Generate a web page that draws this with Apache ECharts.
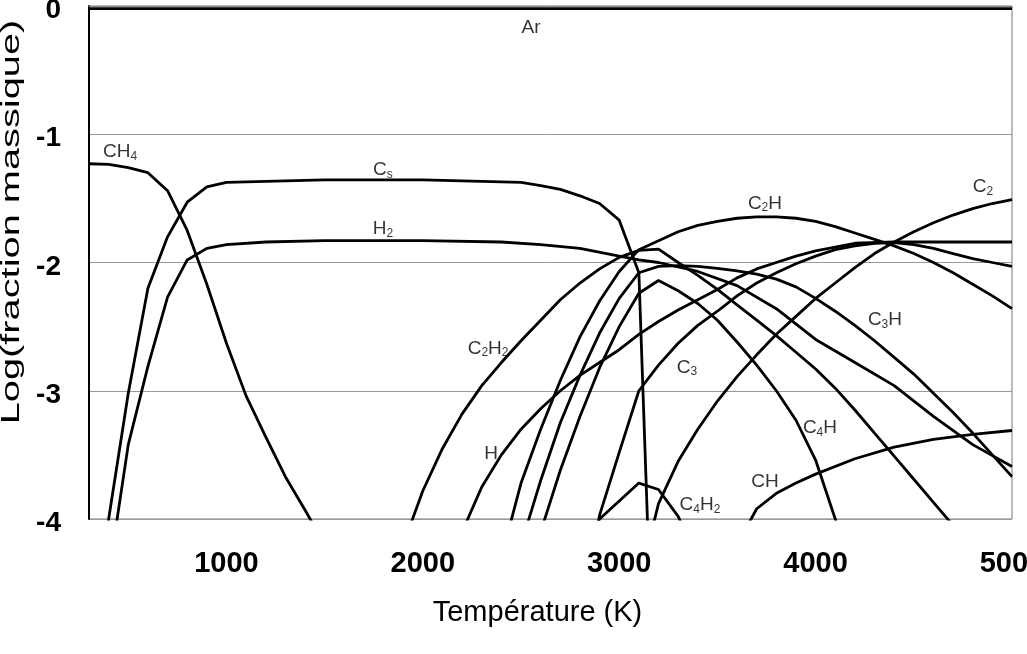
<!DOCTYPE html>
<html>
<head>
<meta charset="utf-8">
<script src="https://cdn.jsdelivr.net/npm/echarts@6/dist/echarts.min.js"></script>
<style>
  html, body { margin: 0; padding: 0; background: #fff; }
  #chart { width: 1027px; height: 654px; }
</style>
</head>
<body>
<div id="chart"></div>
<script>
// temperature (K), log10 of mass fraction
const ar = [[300, -0.02], [1000, -0.02], [2000, -0.02], [3000, -0.02], [4000, -0.02], [5000, -0.02]];
const ch4 = [[300, -1.23], [400, -1.235], [500, -1.26], [600, -1.30], [700, -1.44], [800, -1.75], [900, -2.17],
  [1000, -2.63], [1100, -3.04], [1200, -3.36], [1300, -3.67], [1400, -3.93], [1500, -4.2]];
const cs = [[300, -6.0], [400, -4.0], [500, -3.02], [600, -2.2], [700, -1.80], [800, -1.53], [900, -1.41],
  [1000, -1.375], [1500, -1.355], [2000, -1.355], [2500, -1.375], [2600, -1.40], [2700, -1.43], [2800, -1.48],
  [2900, -1.54], [3000, -1.67], [3100, -2.08], [3200, -6.5]];
const h2 = [[400, -4.44], [500, -3.42], [600, -2.81], [700, -2.27], [800, -1.98], [900, -1.89], [1000, -1.86],
  [1200, -1.84], [1500, -1.83], [2000, -1.83], [2400, -1.84], [2600, -1.86], [2800, -1.89], [3000, -1.95],
  [3100, -1.98], [3200, -2.0], [3400, -2.07], [3600, -2.18], [3800, -2.36], [4000, -2.6], [4200, -2.78],
  [4400, -2.96], [4600, -3.2], [4800, -3.42], [5000, -3.59]];
const c2h2 = [[1900, -4.2], [2000, -3.78], [2100, -3.45], [2200, -3.18], [2300, -2.96], [2400, -2.78],
  [2500, -2.61], [2600, -2.45], [2700, -2.29], [2800, -2.16], [2900, -2.05], [3000, -1.96], [3100, -1.905],
  [3200, -1.895], [3300, -2.0], [3400, -2.1], [3500, -2.21], [3600, -2.33], [3700, -2.45], [3800, -2.57],
  [3900, -2.70], [4000, -2.83], [4100, -2.98], [4200, -3.15], [4300, -3.33], [4400, -3.51], [4500, -3.69],
  [4600, -3.87], [4700, -4.05]];
const hAtom = [[2200, -4.1], [2300, -3.75], [2400, -3.5], [2500, -3.3], [2600, -3.14], [2700, -3.0],
  [2800, -2.88], [2900, -2.78], [3000, -2.68], [3100, -2.56], [3200, -2.46], [3300, -2.37], [3400, -2.29],
  [3500, -2.21], [3600, -2.12], [3700, -2.05], [3800, -2.0], [3900, -1.95], [4000, -1.91], [4200, -1.85],
  [4400, -1.84], [4600, -1.84], [4800, -1.84], [5000, -1.84]];
const c2h = [[2400, -4.3], [2500, -3.72], [2600, -3.3], [2700, -2.92], [2800, -2.58], [2900, -2.3], [3000, -2.07],
  [3100, -1.9], [3200, -1.83], [3300, -1.76], [3400, -1.71], [3500, -1.68], [3600, -1.655], [3700, -1.645],
  [3800, -1.645], [3900, -1.655], [4000, -1.68], [4100, -1.72], [4200, -1.77], [4300, -1.82], [4400, -1.87],
  [4500, -1.93], [4600, -2.0], [4700, -2.08], [4800, -2.17], [4900, -2.26], [5000, -2.36]];
const c3h = [[2500, -4.2], [2600, -3.7], [2700, -3.25], [2800, -2.88], [2900, -2.55], [3000, -2.28], [3100, -2.08],
  [3200, -2.03], [3300, -2.025], [3400, -2.03], [3500, -2.045], [3600, -2.065], [3700, -2.09], [3800, -2.13],
  [3900, -2.19], [4000, -2.28], [4100, -2.38], [4200, -2.49], [4300, -2.61], [4400, -2.74], [4500, -2.87],
  [4600, -3.02], [4700, -3.17], [4800, -3.33], [4900, -3.5], [5000, -3.67]];
const c4h = [[2600, -4.1], [2700, -3.62], [2800, -3.2], [2900, -2.82], [3000, -2.5], [3100, -2.24], [3200, -2.14],
  [3300, -2.22], [3400, -2.32], [3500, -2.45], [3600, -2.62], [3700, -2.8], [3800, -3.0], [3900, -3.23],
  [4000, -3.54], [4100, -4.0], [4200, -4.5]];
const c4h2 = [[2800, -4.4], [2900, -4.0], [3000, -3.86], [3100, -3.72], [3200, -3.77], [3300, -3.98], [3400, -4.3]];
const c3 = [[2800, -4.8], [2900, -3.97], [3000, -3.48], [3100, -3.0], [3200, -2.8], [3300, -2.63], [3400, -2.49],
  [3500, -2.38], [3600, -2.26], [3700, -2.16], [3800, -2.08], [3900, -2.01], [4000, -1.95], [4100, -1.9],
  [4200, -1.87], [4300, -1.85], [4400, -1.845], [4500, -1.86], [4600, -1.89], [4700, -1.93], [4800, -1.97],
  [4900, -2.0], [5000, -2.03]];
const c2 = [[3100, -4.5], [3200, -3.88], [3300, -3.55], [3400, -3.3], [3500, -3.08], [3600, -2.89], [3700, -2.72],
  [3800, -2.56], [3900, -2.42], [4000, -2.28], [4100, -2.16], [4200, -2.04], [4300, -1.93], [4400, -1.84],
  [4500, -1.76], [4600, -1.69], [4700, -1.63], [4800, -1.58], [4900, -1.54], [5000, -1.51]];
const ch = [[3600, -4.2], [3700, -3.92], [3800, -3.8], [3900, -3.72], [4000, -3.65], [4200, -3.53], [4400, -3.44],
  [4600, -3.38], [4800, -3.34], [5000, -3.31]];

const speciesNames = ['Ar', 'CH4', 'Cs', 'H2', 'C2H2', 'H', 'C2H', 'C3H', 'C4H', 'C4H2', 'C3', 'C2', 'CH'];
const speciesData = [ar, ch4, cs, h2, c2h2, hAtom, c2h, c3h, c4h, c4h2, c3, c2, ch];

// label anchors [T, log], text with subscripts
const labelAnchors = [
  [2551, -0.17, 'Ar'],
  [458, -1.14, 'CH{s|4}'],
  [1797, -1.28, 'C{s|s}'],
  [1797, -1.74, 'H{s|2}'],
  [3742, -1.54, 'C{s|2}H'],
  [4852, -1.41, 'C{s|2}'],
  [2332, -2.67, 'C{s|2}H{s|2}'],
  [4353, -2.45, 'C{s|3}H'],
  [3345, -2.82, 'C{s|3}'],
  [2347, -3.49, 'H'],
  [4022, -3.29, 'C{s|4}H'],
  [3742, -3.71, 'CH'],
  [3411, -3.89, 'C{s|4}H{s|2}']
];

const xTicks = [1000, 2000, 3000, 4000, 5000];
const yTitle = 'Log(fraction massique)';
const font = '"Liberation Sans", Arial, sans-serif';

const chart = echarts.init(document.getElementById('chart'));

const lineSeries = speciesNames.map((name, i) => ({
  name: name,
  type: 'line',
  data: speciesData[i],
  showSymbol: false,
  symbol: 'none',
  smooth: false,
  clip: true,
  lineStyle: { color: '#000', width: 2.8 },
  z: 3
}));

chart.setOption({
  animation: false,
  backgroundColor: '#fff',
  grid: {
    left: 89, right: 15, top: 6, bottom: 135,
    outerBoundsMode: 'none', containLabel: false,
    show: true, borderColor: '#777', borderWidth: 1
  },
  // the y title in the source is drawn stretched along its length
  graphic: [{
    type: 'text',
    x: 12,
    y: 222,
    rotation: Math.PI / 2,
    scaleX: 1.53,
    style: {
      text: yTitle,
      font: '26px ' + font,
      fill: '#000',
      textAlign: 'center',
      textVerticalAlign: 'middle'
    }
  }],
  xAxis: {
    type: 'value',
    min: 300,
    max: 5000,
    name: 'Température (K)',
    nameLocation: 'middle',
    nameGap: 79,
    nameTextStyle: { fontFamily: font, fontSize: 29, color: '#000', padding: [0, 26, 0, 0] },
    axisLine: { show: true, lineStyle: { color: '#888', width: 1 } },
    axisTick: { show: false },
    splitLine: { show: false },
    axisLabel: {
      customValues: xTicks,
      formatter: v => String(v),
      fontFamily: font, fontSize: 29, fontWeight: 'bold', color: '#000', margin: 30
    }
  },
  yAxis: {
    type: 'value',
    min: -4,
    max: 0,
    interval: 1,
    axisLine: { show: true, lineStyle: { color: '#000', width: 2 } },
    axisTick: { show: false },
    splitLine: { show: true, lineStyle: { color: '#999', width: 1 } },
    axisLabel: {
      formatter: v => '{t|' + v + '}',
      margin: 28,
      rich: {
        t: { fontFamily: font, fontSize: 28, fontWeight: 'bold', color: '#000', padding: [9, 0, 0, 0] }
      }
    }
  },
  series: lineSeries.concat([{
    name: 'labels',
    type: 'scatter',
    symbolSize: 0,
    data: labelAnchors.map(a => ({ value: [a[0], a[1]], text: a[2] })),
    z: 5,
    label: {
      show: true,
      position: 'inside',
      formatter: p => p.data.text,
      fontFamily: font,
      fontSize: 19,
      color: '#000',
      rich: {
        s: { fontFamily: font, fontSize: 12, color: '#000', verticalAlign: 'bottom', padding: [9, 0, 0, 0] }
      }
    }
  }])
});
</script>
</body>
</html>
